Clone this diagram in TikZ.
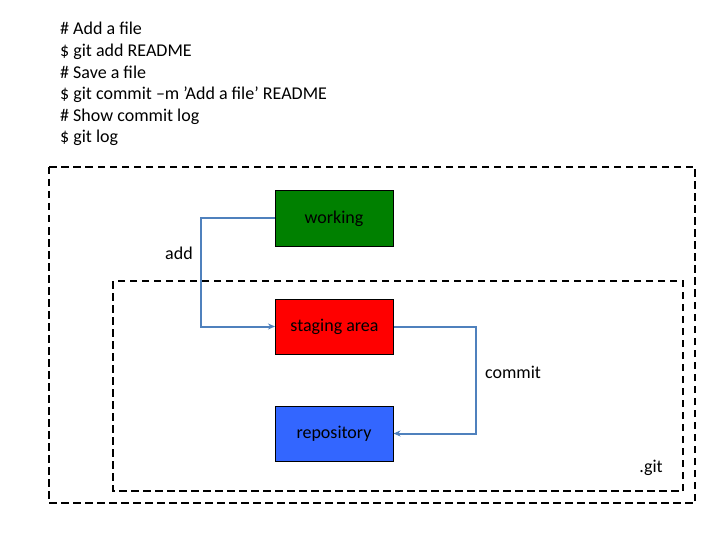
\documentclass[tikz,border=0pt]{standalone}
\usepackage{fontspec}
\setmainfont{Carlito}
\usetikzlibrary{arrows.meta}
\definecolor{linkblue}{RGB}{79,129,189}
\definecolor{wgreen}{RGB}{0,128,0}
\definecolor{sred}{RGB}{255,0,0}
\definecolor{rblue}{RGB}{51,102,255}
\begin{document}
\begin{tikzpicture}[x=1pt,y=-1pt,
  box/.style={draw=black,line width=1pt,minimum width=118pt,minimum height=55pt,inner sep=0pt,font=\fontsize{18}{21}\selectfont},
  region/.style={draw=black,line width=1.8pt,dash pattern=on 7.5pt off 4.5pt},
  link/.style={draw=linkblue,line width=2pt,-{Stealth[length=7pt,width=6pt]}},
  lbl/.style={font=\fontsize{18}{21}\selectfont,inner sep=0pt},
  code/.style={font=\fontsize{18}{21}\selectfont,inner sep=0pt,anchor=base west}]
\useasboundingbox (0,0) rectangle (720,540);
\draw[region] (49,167) rectangle (695,503);
\draw[region] (113,281) rectangle (683,491);
\node[code] (l1) at (60,35) {\# Add a file};
\node[code] (l2) at (60,56.6) {\$ git add README};
\node[code] (l3) at (60,78.2) {\# Save a file};
\node[code] (l4) at (60,99.8) {\$ git commit –m ’Add a file’ README};
\node[code] (l5) at (60,121.4) {\# Show commit log};
\node[code] (l6) at (60,143) {\$ git log};
\node[box,fill=wgreen] (working) at (334,218.5) {working};
\node[box,fill=sred] (staging) at (334.5,326.5) {staging area};
\node[box,fill=rblue] (repo) at (334,433.5) {repository};
\coordinate (a1) at (201,218.5);
\coordinate (c1) at (476,326.5);
\draw[link] (working.west) -- (a1) |- (staging.west);
\draw[link] (staging.east) -- (c1) |- (repo.east);
\node[lbl] (addl) at (179,253) {add};
\node[lbl] (commitl) at (513,372) {commit};
\node[lbl] (gitl) at (651,468) {.git};
\end{tikzpicture}
\end{document}
